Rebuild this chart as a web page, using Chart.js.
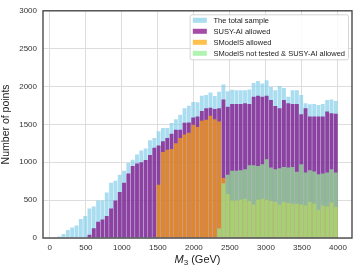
<!DOCTYPE html>
<html lang="en"><head><meta charset="UTF-8">
<title>M3 histogram</title>
<script src="https://cdn.jsdelivr.net/npm/chart.js@4.4.1/dist/chart.umd.min.js"></script>
<style>
*{box-sizing:border-box;margin:0;padding:0;}
body{background:#fff;font-family:'Liberation Sans',Arial,sans-serif;}
.wrap{position:relative;width:357px;height:271px;}
.xtitle{position:absolute;left:43px;width:309px;top:253px;text-align:center;font-size:11px;color:#222;line-height:13px;}
.xtitle sub{font-size:8px;vertical-align:-2px;line-height:0;}
</style></head>
<body>
<div class="wrap">
  <canvas id="c" width="357" height="271"></canvas>
  <div class="xtitle"><i>M</i><sub>3</sub> (GeV)</div>
</div>
<script>
// bin centres (GeV), 60 GeV wide bins
const binCenters = [130,190,250,310,370,430,490,550,610,670,730,790,850,910,970,1030,1090,1150,1210,1270,
  1330,1390,1450,1510,1570,1630,1690,1750,1810,1870,1930,1990,2050,2110,2170,2230,2290,2350,2410,2470,
  2530,2590,2650,2710,2770,2830,2890,2950,3010,3070,3130,3190,3250,3310,3370,3430,3490,3550,3610,3670,
  3730,3790,3850,3910,3970];

const totalSample = [20,52,104,140,165,252,291,391,417,495,495,600,730,756,835,887,991,1034,1104,1156,
  1182,1291,1321,1408,1452,1452,1517,1569,1626,1713,1747,1795,1791,1878,1887,1921,1874,1930,2026,1939,
  1956,1952,1952,1952,1960,2047,2073,2039,2082,1995,1952,2008,1982,1865,1952,1952,1887,1778,1765,1769,
  1756,1769,1821,1830,1810];

const susyAiAllowed = [0,0,0,0,0,0,0,43,130,213,243,291,391,495,609,730,852,950,985,1000,
  1030,1095,1191,1221,1278,1321,1378,1430,1430,1521,1526,1591,1604,1678,1713,1721,1704,1713,1830,1734,
  1769,1769,1769,1778,1769,1865,1878,1865,1878,1821,1743,1713,1821,1778,1769,1769,1634,1713,1604,1604,
  1604,1604,1669,1647,1640];

const smodelsAllowed = [0,0,0,0,0,0,0,0,0,0,0,0,0,0,0,0,0,0,0,0,
  0,0,0,704,1135,1165,1174,1252,1321,1365,1391,1495,1465,1548,1561,1613,1569,1539,791,582,
  496,496,504,517,487,443,504,517,504,487,474,443,474,461,452,452,443,430,474,452,
  374,430,417,465,408];

const notTestedSusyAi = [0,0,0,0,0,0,0,0,0,0,0,0,0,0,0,0,0,0,0,0,
  0,0,0,0,0,0,0,0,0,0,0,0,0,0,0,0,0,126,722,835,
  887,887,895,908,961,961,952,974,1039,930,908,921,939,930,939,874,974,865,895,878,
  843,852,865,908,865];

const xTicks = [0,500,1000,1500,2000,2500,3000,3500,4000];
const yTicks = [0,500,1000,1500,2000,2500,3000];

const pts = arr => arr.map((v, i) => ({x: binCenters[i], y: v}));

const series = [
  {label: 'The total sample', data: totalSample, color: 'rgba(135,206,235,0.7)', order: 4},
  {label: 'SUSY-AI allowed', data: susyAiAllowed, color: 'rgba(128,0,128,0.7)', order: 3},
  {label: 'SModelS allowed', data: smodelsAllowed, color: 'rgba(255,165,0,0.7)', order: 2},
  {label: 'SModelS not tested & SUSY-AI allowed', data: notTestedSusyAi, color: 'rgba(144,238,144,0.7)', order: 1}
];

// spines on all four sides
const framePlugin = {
  id: 'frame',
  afterDatasetsDraw(chart) {
    const {ctx, chartArea: a} = chart;
    ctx.save();
    ctx.strokeStyle = '#4a4a4a';
    ctx.lineWidth = 1.4;
    ctx.strokeRect(a.left, a.top, a.right - a.left, a.bottom - a.top);
    ctx.restore();
  }
};

// matplotlib-style legend box inside the axes, upper right
const boxLegend = {
  id: 'boxLegend',
  afterDraw(chart) {
    const {ctx, chartArea: a} = chart;
    const ds = chart.data.datasets;
    ctx.save();
    ctx.font = '7.5px "Liberation Sans", Arial, sans-serif';
    const tw = Math.max(...ds.map(d => ctx.measureText(d.label).width));
    const rowH = 11, patchW = 14, patchH = 5;
    const w = 2.7 + patchW + 6.7 + tw + 3.5;
    const h = 5 + rowH * (ds.length - 1) + 7;
    const x = a.right - 3.5 - w, y = a.top + 4;
    ctx.fillStyle = 'rgba(255,255,255,0.85)';
    ctx.strokeStyle = '#cccccc';
    ctx.lineWidth = 0.8;
    ctx.beginPath();
    ctx.roundRect(x, y, w, h, 2);
    ctx.fill();
    ctx.stroke();
    ds.forEach((d, i) => {
      const cy = y + 5.5 + i * rowH;
      ctx.fillStyle = d.backgroundColor;
      ctx.fillRect(x + 2.7, cy - patchH / 2, patchW, patchH);
      ctx.fillStyle = '#222';
      ctx.textBaseline = 'middle';
      ctx.fillText(d.label, x + 2.7 + patchW + 6.7, cy + 0.5);
    });
    ctx.restore();
  }
};

const tickFont = {size: 8, family: "'Liberation Sans', Arial, sans-serif"};

new Chart(document.getElementById('c'), {
  type: 'bar',
  data: {
    datasets: series.map(s => ({
      label: s.label,
      data: pts(s.data),
      backgroundColor: s.color,
      borderWidth: 0,
      grouped: false,
      order: s.order,
      barPercentage: 0.9,
      categoryPercentage: 1
    }))
  },
  options: {
    responsive: false,
    animation: false,
    layout: {padding: {left: 0, right: 5, top: 8, bottom: 0}},
    plugins: {legend: {display: false}, tooltip: {enabled: false}},
    scales: {
      x: {
        type: 'linear', min: -95, max: 4195, offset: false,
        afterBuildTicks: ax => { ax.ticks = xTicks.map(v => ({value: v})); },
        afterFit: s => { s.height = 33; },
        grid: {color: '#dddddd', lineWidth: 1, drawTicks: false, offset: false},
        border: {display: false},
        ticks: {padding: 5, color: '#333', font: tickFont, callback: v => String(v)}
      },
      y: {
        min: 0, max: 3000,
        afterBuildTicks: ax => { ax.ticks = yTicks.map(v => ({value: v})); },
        afterFit: s => { s.width = 43; },
        grid: {color: '#dddddd', lineWidth: 1, drawTicks: false},
        border: {display: false},
        ticks: {padding: 6, color: '#333', font: tickFont, callback: v => String(v)},
        title: {display: true, text: 'Number of points', color: '#222', padding: {top: 0, bottom: 2},
          font: {size: 10.5, family: "'Liberation Sans', Arial, sans-serif"}}
      }
    }
  },
  plugins: [framePlugin, boxLegend]
});
</script>
</body></html>
